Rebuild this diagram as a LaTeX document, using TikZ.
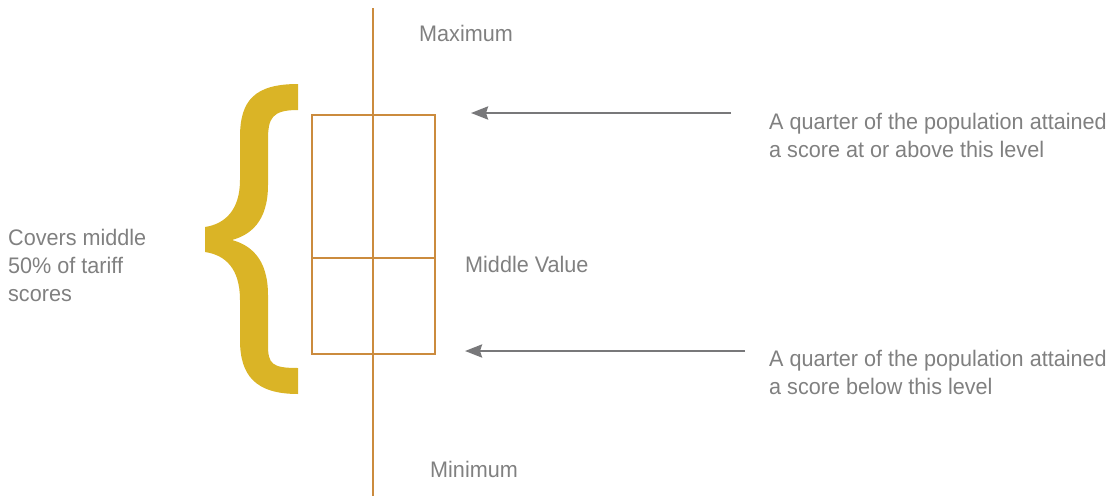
\documentclass[tikz,border=0pt]{standalone}
\usepackage{fontspec}
\setmainfont[FakeStretch=0.96]{Liberation Sans}
\usepackage{tikz}
\usetikzlibrary{arrows.meta}
\definecolor{cwhisker}{RGB}{203,139,62}
\definecolor{cbrace}{RGB}{218,180,38}
\definecolor{cgrey}{RGB}{128,128,128}
\definecolor{carrow}{RGB}{120,120,122}

\begin{document}
\begin{tikzpicture}[x=1pt,y=-1pt,>={Stealth[length=17pt,width=13pt,inset=2pt]},
  box line/.style={draw=cwhisker,line width=2pt},
  label node/.style={anchor=base west,inner sep=0pt,text=cgrey,align=left,
    font=\fontsize{22.5}{28}\selectfont},
  pointer/.style={->,draw=carrow,line width=2.6pt}]
  \useasboundingbox (0,0) rectangle (1116,498);

  % whisker and box
  \draw[box line] (373,8) -- (373,496);
  \node[box line,minimum width=123pt,minimum height=239pt,inner sep=0pt] (box) at (373.5,234.5) {};
  \draw[box line] (312,258) -- (435,258);

  % curly brace
  \fill[cbrace] (298,84) -- (298,110)
    .. controls (272,110) and (268,118) .. (268,140) -- (268,185)
    .. controls (268,222) and (250,235) .. (232,240)
    .. controls (250,245) and (268,258) .. (268,295) -- (268,345)
    .. controls (268,364) and (272,368) .. (298,368) -- (298,394)
    .. controls (255,394) and (240,375) .. (240,340) -- (240,300)
    .. controls (240,268) and (225,255) .. (205,252) -- (205,227)
    .. controls (225,224) and (240,210) .. (240,180) -- (240,137)
    .. controls (240,100) and (255,84) .. (298,84) -- cycle;

  \node[label node] (maxlbl) at (419,41) {Maximum};
  \node[label node] (minlbl) at (430,477) {Minimum};
  \node[label node] (medlbl) at (465,272) {Middle Value};
  \node[label node] (covlbl) at (8,301) {Covers middle\\50\% of tariff\\scores};
  \node[label node] (uqlbl) at (769,157) {A quarter of the population attained\\a score at or above this level};
  \node[label node] (lqlbl) at (769,394) {A quarter of the population attained\\a score below this level};

  \coordinate (uqstart) at (731,113);
  \coordinate (uqtip) at (471,113);
  \coordinate (lqstart) at (745,351);
  \coordinate (lqtip) at (465,351);
  \draw[pointer] (uqstart) -- (uqtip);
  \draw[pointer] (lqstart) -- (lqtip);
\end{tikzpicture}
\end{document}
